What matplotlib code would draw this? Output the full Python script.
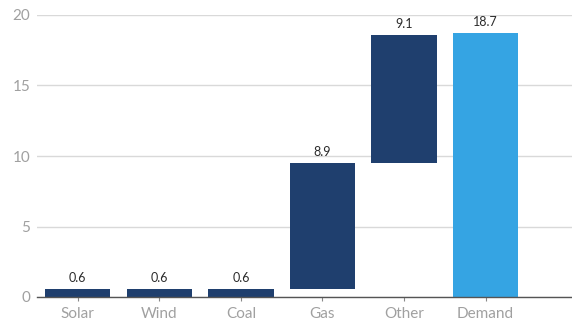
import matplotlib
matplotlib.use("Agg")
import matplotlib.pyplot as plt

categories = ["Solar", "Wind", "Coal", "Gas", "Other", "Demand"]
values = [0.6, 0.6, 0.6, 8.9, 9.1, 18.7]
bases = [0.0, 0.0, 0.0, 0.6, 9.5, 0.0]
colors = ["#1f3f6e"] * 5 + ["#35a4e3"]

plt.rcParams["font.family"] = ["Lato", "DejaVu Sans"]

fig = plt.figure(figsize=(5.72, 3.24), dpi=100)
ax = fig.add_axes([37 / 572, 27 / 324, 1 - 37 / 572, 282 / 324])

x = range(len(categories))
ax.bar(x, values, bottom=bases, width=0.8, color=colors, zorder=3)

for i, (v, b) in enumerate(zip(values, bases)):
    ax.text(i, b + v + 0.35, f"{v:.1f}", ha="center", va="bottom",
            fontsize=9, color="#2b2b2b", zorder=4)

ax.set_xlim(-0.5, 6.06)
ax.set_ylim(0, 20)
ax.set_yticks([0, 5, 10, 15, 20])
ax.set_xticks(list(x))
ax.set_xticklabels(categories)

ax.grid(axis="y", color="#d9d9d9", linewidth=1.0, zorder=0)
for s in ["top", "right", "left"]:
    ax.spines[s].set_visible(False)
ax.spines["bottom"].set_color("#555555")
ax.spines["bottom"].set_linewidth(1.0)
ax.spines["bottom"].set_zorder(5)

ax.tick_params(axis="y", length=0, pad=5, labelsize=11, labelcolor="#a0a0a0")
ax.tick_params(axis="x", length=3, color="#888888", pad=4,
               labelsize=11, labelcolor="#a0a0a0")

plt.savefig("out.png", dpi=100)
plt.close()
